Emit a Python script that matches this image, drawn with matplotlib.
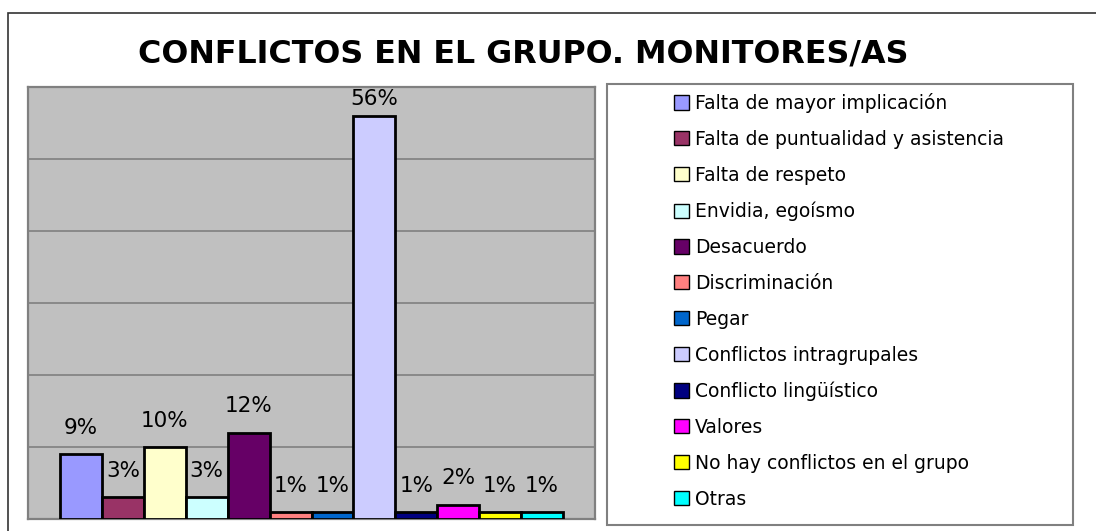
import matplotlib
matplotlib.use('Agg')
import matplotlib.pyplot as plt
from matplotlib.patches import Rectangle, Patch

plt.rcParams['font.family'] = ['DejaVu Sans']

categorias = ['Falta de mayor implicación', 'Falta de puntualidad y asistencia',
              'Falta de respeto', 'Envidia, egoísmo', 'Desacuerdo', 'Discriminación',
              'Pegar', 'Conflictos intragrupales', 'Conflicto lingüístico', 'Valores',
              'No hay conflictos en el grupo', 'Otras']
valores = [0.09, 0.03, 0.10, 0.03, 0.12, 0.01, 0.01, 0.56, 0.01, 0.02, 0.01, 0.01]
colores = ['#9999FF', '#993366', '#FFFFCC', '#CCFFFF', '#660066', '#FF8080',
           '#0066CC', '#CCCCFF', '#000080', '#FF00FF', '#FFFF00', '#00FFFF']

W, H = 1096, 531
fig = plt.figure(figsize=(W / 100, H / 100), dpi=100)

# marco exterior (solo se ven arriba e izquierda)
fig.patches.append(Rectangle((8 / W, -0.2), 1.2, (H - 13) / H + 0.2, transform=fig.transFigure,
                             facecolor='none', edgecolor='#333333', linewidth=1.2))

ax = fig.add_axes([28 / W, (H - 519) / H, (595 - 28) / W, (519 - 87) / H])
ax.set_facecolor('#C0C0C0')
x = list(range(len(valores)))
ax.bar(x, valores, width=1.0, color=colores, edgecolor='black', linewidth=2.0, zorder=3)
ax.set_xlim(-1.264, 12.264)
ax.set_ylim(0, 0.6)
ax.set_yticks([0.1 * i for i in range(7)])
ax.yaxis.grid(True, color='#808080', linewidth=1.2, zorder=0)
ax.tick_params(left=False, bottom=False, labelleft=False, labelbottom=False)
for s in ax.spines.values():
    s.set_color('#808080')
    s.set_linewidth(1.6)

for xi, v in zip(x, valores):
    y = min(v + 0.028, 0.575)
    ax.text(xi, y, f'{v:.0%}', ha='center', va='baseline', fontsize=15.5, zorder=4)

fig.text(523 / W, (H - 63) / H, 'CONFLICTOS EN EL GRUPO. MONITORES/AS', ha='center',
         va='baseline', fontsize=22.9, fontweight='bold')

# caja de la leyenda
fig.patches.append(Rectangle((607 / W, (H - 525) / H), (1073 - 607) / W, (525 - 84) / H,
                             transform=fig.transFigure, facecolor='white',
                             edgecolor='#808080', linewidth=1.5))
handles = [Patch(facecolor=c, edgecolor='black', linewidth=1.0) for c in colores]
fig.legend(handles, categorias, loc='upper left', bbox_to_anchor=(674 / W, (H - 93) / H),
           frameon=False, fontsize=13.5, handlelength=0.78, handleheight=0.78,
           handletextpad=0.35, labelspacing=0.9, borderaxespad=0, borderpad=0)

fig.savefig('out.png', dpi=100)
